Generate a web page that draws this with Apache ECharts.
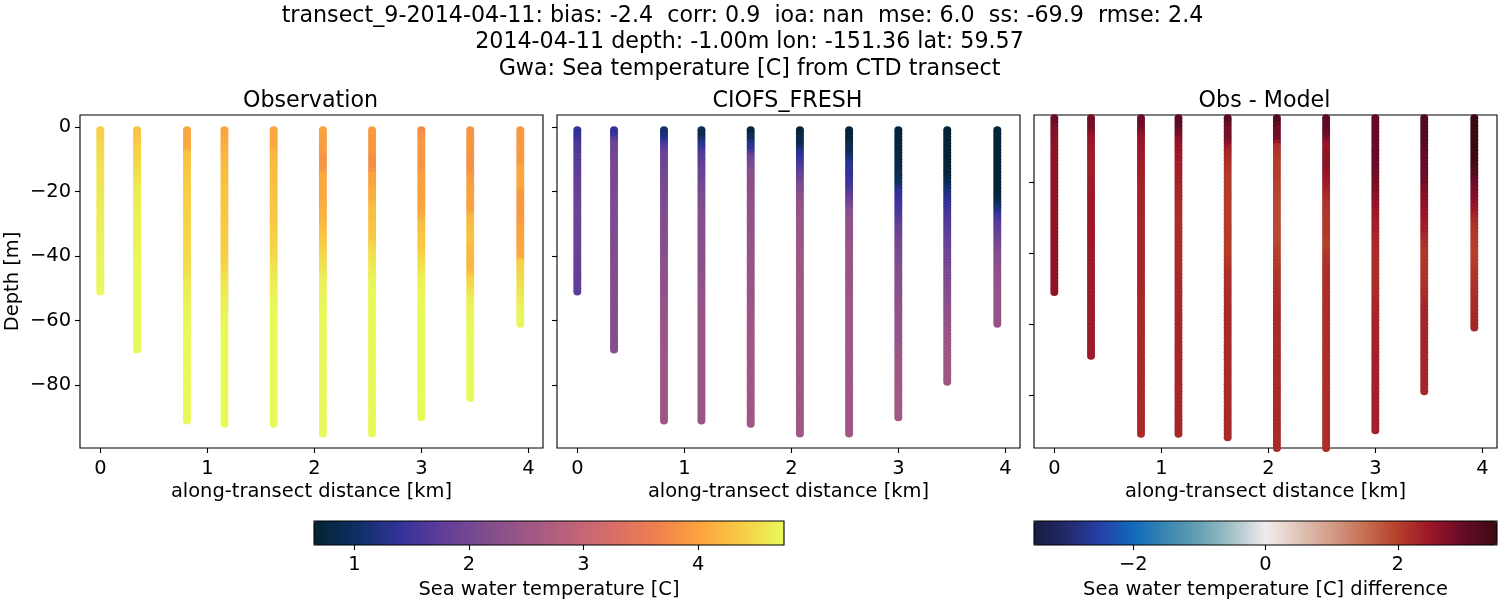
<!DOCTYPE html>
<html><head><meta charset="utf-8">
<style>html,body{margin:0;padding:0;background:#fff}#c{width:1500px;height:600px}</style>
<script src="https://cdn.jsdelivr.net/npm/echarts@6/dist/echarts.min.js"></script>
</head><body><div id="c"></div>
<script>
const distanceKm=[0,0.343,0.81,1.16,1.62,2.08,2.54,3.0,3.457,3.925];
const xTicks=[0,1,2,3,4];
const yTicksLabelled=[0,-20,-40,-60,-80];
const tempTicks=[1,2,3,4];
const diffTicks=[-2,0,2];
const suptitle=["transect_9-2014-04-11: bias: -2.4  corr: 0.9  ioa: nan  mse: 6.0  ss: -69.9  rmse: 2.4","2014-04-11 depth: -1.00m lon: -151.36 lat: 59.57","Gwa: Sea temperature [C] from CTD transect"];
const panelTitles=["Observation","CIOFS_FRESH","Obs - Model"];
// temperatures in hundredths of a degree, one value per metre of depth from 1 m down, one row per station
const obsTemp=[
[440,441,442,444,446,448,450,451,452,453,454,455,456,457,458,458,459,460,460,461,461,462,462,463,463,464,464,465,465,466,466,467,467,468,468,469,469,470,470,470,471,471,471,472,472,472,473,473,473,474,474],
[430,431,433,435,437,439,441,443,445,446,448,450,452,454,456,458,460,461,462,463,464,464,465,465,466,466,467,467,468,468,469,469,470,470,470,471,471,471,472,472,472,473,473,473,473,474,474,474,474,474,474,475,475,475,475,475,475,475,475,475,475,475,475,475,475,475,475,475,475],
[405,405,405,406,406,407,408,425,430,431,432,433,434,435,436,437,438,438,439,439,440,440,441,441,442,442,443,443,444,444,445,445,446,446,447,447,448,448,449,449,450,451,452,453,454,456,458,460,462,464,465,466,467,468,469,470,471,472,472,473,473,473,474,474,474,474,474,474,475,475,475,475,475,475,475,475,475,475,475,475,475,475,475,475,475,475,475,475,475,475,475],
[403,404,405,406,407,410,413,415,417,420,421,422,423,424,425,426,427,428,429,430,431,431,432,432,433,433,434,434,435,435,436,436,437,437,438,438,439,439,440,440,442,444,446,448,450,452,454,456,458,460,462,464,465,466,467,468,469,470,471,472,472,473,473,474,474,474,474,474,475,475,475,475,475,475,475,475,475,475,475,475,475,475,475,475,475,475,475,475,475,475,475,475],
[403,404,405,405,406,406,407,418,419,420,421,422,423,424,425,426,426,427,428,428,429,430,431,432,433,434,435,435,436,437,438,439,440,441,442,443,444,445,446,447,449,451,455,457,459,461,463,465,466,467,468,469,470,471,472,472,473,473,474,474,474,474,475,475,475,475,475,475,475,475,475,475,475,475,475,475,475,475,475,475,475,475,475,475,475,475,475,475,475,475,475,475],
[400,399,398,397,396,395,394,392,389,386,385,385,385,390,405,405,405,405,406,406,407,407,408,408,410,411,413,414,416,420,423,426,429,432,435,437,439,441,443,447,450,452,454,456,460,462,464,466,467,468,469,470,471,472,473,473,474,474,474,474,475,475,475,475,475,475,475,475,475,475,475,475,475,475,475,475,475,475,475,475,475,475,475,475,475,475,475,475,475,475,475,475,475,475,475],
[395,394,393,392,391,390,390,390,385,381,380,380,380,385,400,400,401,401,403,410,410,411,412,420,425,426,427,428,429,430,431,432,435,436,437,440,446,450,452,454,456,458,460,462,464,466,468,470,471,472,473,473,474,474,475,475,475,475,475,475,475,475,475,475,475,475,475,475,475,475,475,475,475,475,475,475,475,475,475,475,475,475,475,475,475,475,475,475,475,475,475,475,475,475,475],
[375,378,382,386,390,390,390,390,390,389,388,385,385,390,400,400,400,400,400,400,400,400,401,401,402,402,403,410,418,425,427,429,431,433,435,436,437,438,442,446,448,450,453,456,459,462,465,467,468,469,470,471,472,472,473,473,474,474,474,474,475,475,475,475,475,475,475,475,475,475,475,475,475,475,475,475,475,475,475,475,475,475,475,475,475,475,475,475,475,475],
[385,386,387,388,390,390,389,388,386,384,382,382,382,382,388,395,396,397,398,398,399,400,400,400,400,400,405,420,422,424,426,428,429,430,430,428,425,422,420,420,420,420,420,420,425,432,440,445,448,452,456,460,464,467,469,470,471,472,472,473,473,474,474,474,475,475,475,475,475,475,475,475,475,475,475,475,475,475,475,475,475,475,475,475],
[390,390,390,391,391,391,392,392,391,390,390,395,405,405,405,405,405,405,405,395,390,390,390,390,390,390,390,390,392,394,396,398,400,401,402,403,404,405,406,408,410,440,442,444,446,448,450,452,454,456,458,460,462,465,467,469,470,471,472,472,472]];
const modelTemp=[
[137,137,137,145,155,160,163,165,168,170,172,173,175,176,177,178,180,182,184,185,186,186,187,188,188,189,189,190,190,190,190,190,189,189,188,188,187,187,186,185,185,184,183,182,181,180,179,178,177,176,175],
[140,140,145,170,190,192,194,196,198,200,201,202,203,204,205,206,207,208,208,209,209,209,210,210,210,211,211,211,212,212,212,212,213,213,213,214,214,214,215,215,215,216,216,216,217,217,217,218,218,218,219,219,219,220,220,220,220,220,220,220,220,220,220,220,220,220,220,220,220],
[110,110,120,130,145,160,175,185,188,190,192,194,196,198,200,202,204,205,206,207,208,209,210,211,212,213,214,215,216,216,217,218,219,220,220,221,222,223,224,225,226,227,227,228,228,229,229,230,231,232,233,234,235,236,237,238,239,240,241,242,243,244,245,245,246,246,247,247,248,248,248,249,249,249,250,250,250,250,250,250,250,250,250,250,250,250,250,250,250,250,250],
[90,90,90,110,125,135,150,160,165,170,175,180,183,186,189,192,195,200,203,206,209,211,213,214,215,216,217,218,219,220,221,221,222,222,223,223,224,224,225,225,226,227,228,229,230,231,232,233,234,235,236,237,238,239,240,240,241,241,242,242,243,243,243,244,244,244,244,245,245,245,245,245,245,245,245,245,245,245,245,245,245,245,245,245,245,245,245,245,245,245,245],
[75,75,95,95,120,130,140,160,180,195,205,210,215,220,223,225,226,228,229,230,230,231,231,232,232,233,233,234,234,235,235,235,236,236,237,237,238,238,239,239,240,240,241,241,242,242,243,243,244,245,245,245,246,246,246,247,247,247,248,248,248,248,249,249,249,249,250,250,250,250,250,250,250,250,250,250,250,250,250,250,250,250,250,250,250,250,250,250,250,250,250,250],
[70,70,85,85,88,95,110,125,135,142,150,160,168,176,185,192,198,205,212,218,224,230,233,236,238,240,241,243,244,245,246,246,247,247,248,248,249,249,249,250,250,250,250,251,251,251,251,251,251,252,252,252,252,252,252,252,252,252,252,252,252,252,252,252,252,252,252,252,252,252,252,252,252,252,252,252,252,252,252,252,252,252,252,252,252,252,252,252,252,252,252,252,252,252,252],
[72,72,72,72,80,90,90,95,105,115,125,135,135,135,138,142,146,150,158,166,175,180,190,200,210,218,224,228,232,234,235,236,237,238,239,240,241,242,243,243,244,244,245,245,245,246,246,247,247,247,248,248,249,249,250,250,250,250,251,251,251,251,252,252,252,252,253,253,253,253,253,253,254,254,254,254,254,254,254,254,255,255,255,255,255,255,255,255,255,255,255,255,255,255,255],
[72,72,72,72,72,73,74,75,76,78,79,80,82,85,90,93,98,105,118,130,135,140,145,150,155,158,160,166,172,178,185,188,191,194,197,200,202,204,206,208,210,212,214,216,220,221,222,223,224,225,226,227,228,229,230,231,232,233,234,235,236,237,238,239,240,241,242,243,244,245,246,247,248,249,250,251,252,253,254,255,255,255,255,255,255,255,255,255,255,255],
[68,68,68,68,68,68,68,68,68,68,68,68,69,70,72,80,88,95,105,112,120,127,134,140,145,150,155,158,162,165,168,170,174,178,182,186,190,192,194,196,198,200,202,204,210,211,212,213,214,215,217,219,221,223,225,227,229,231,233,235,237,239,241,243,245,246,247,248,249,250,250,250,250,250,250,250,250,250,250],
[68,68,68,68,68,68,68,68,68,68,68,68,68,68,68,68,68,68,68,68,70,75,80,95,110,120,135,150,160,170,175,180,185,190,195,200,205,210,214,218,221,224,227,230,232,233,234,235,236,238,240,240,240,240,240,240,240,240,240,240,240]];
const diffTemp=[
[295,295,295,285,275,272,270,268,266,265,264,264,263,263,262,262,262,261,261,260,260,260,260,260,260,260,260,259,259,259,259,259,259,259,260,260,260,260,260,260,260,260,260,260,260,260,260,260,260,260,260],
[285,285,285,285,285,270,260,250,248,246,244,243,242,241,240,240,240,241,241,242,242,243,243,244,245,245,245,245,245,245,245,245,245,245,245,245,245,245,245,245,244,244,244,244,244,244,244,244,244,244,244,244,244,244,244,244,244,244,244,244,244,244,244,244,244,244,244,244,244],
[295,295,295,295,285,270,262,256,252,250,248,246,245,244,242,241,240,238,236,235,235,235,234,234,233,233,233,232,232,232,231,231,231,231,230,230,230,230,230,230,230,230,229,229,229,229,228,228,228,228,227,227,227,227,227,227,227,227,227,227,226,226,226,226,226,226,226,226,226,226,226,226,226,226,226,226,226,226,226,226,225,225,225,225,225,225,225,225,225,225,225],
[310,310,310,310,300,290,280,265,258,255,250,247,244,242,240,238,237,236,235,235,233,232,230,228,226,225,224,222,221,220,220,220,220,220,220,221,221,222,222,223,223,223,224,224,224,225,225,225,225,225,226,226,226,226,226,227,227,227,227,227,228,228,228,228,228,228,228,228,228,228,228,228,228,228,228,228,228,228,228,228,228,228,228,228,228,228,228,228,228,228,228],
[315,315,315,300,285,285,285,285,270,250,235,230,225,220,215,212,210,208,206,205,205,205,204,204,204,204,204,204,204,204,204,204,204,205,205,204,203,200,202,204,206,208,210,212,215,217,219,220,221,222,223,224,225,225,225,225,225,225,225,225,225,225,225,225,225,225,225,225,225,225,225,225,225,225,225,225,225,225,225,225,225,225,225,225,225,225,225,225,225,225,225,225],
[320,320,320,310,290,290,290,290,255,220,215,212,210,208,206,205,204,203,202,200,198,197,196,195,194,193,192,191,190,190,190,190,190,190,190,192,194,196,198,200,202,204,206,208,210,212,214,215,215,215,217,219,220,221,222,223,224,225,225,225,225,225,225,225,225,225,225,225,225,225,225,225,225,225,225,225,225,225,225,225,225,225,225,225,225,225,225,225,225,225,225,225,225,225,225],
[310,310,310,310,305,300,290,280,265,255,255,258,262,265,265,265,258,252,248,245,240,235,230,225,220,218,216,214,212,210,210,210,210,210,210,205,203,200,205,210,213,215,216,217,218,218,219,219,219,220,220,220,220,220,220,220,220,220,220,220,220,220,220,220,220,220,220,220,220,220,220,220,220,220,220,220,220,220,220,220,220,220,220,220,220,220,220,220,220,220,220,220,220,220,220],
[305,305,305,304,303,302,302,301,300,300,299,299,298,297,295,293,291,289,287,285,282,278,274,270,265,260,255,250,246,242,240,238,236,234,230,228,226,225,224,223,222,222,221,221,220,220,221,221,222,222,223,224,225,226,227,228,229,230,230,230,231,231,232,232,232,233,233,233,234,234,234,234,234,235,235,235,235,235,235,235,235,235,235,235,235,235,235,235,235,235],
[325,325,325,325,325,322,320,318,316,315,312,309,306,303,300,298,296,294,292,290,285,280,275,270,265,260,257,255,252,250,246,243,240,237,230,226,222,218,214,210,210,210,211,212,213,214,215,215,216,218,220,222,224,226,228,230,230,230,230,230,230,230,230,230,230,230,230,230,230,230,230,230,230,230,230,230,230,230,230],
[350,350,350,350,350,350,350,350,350,350,350,350,350,345,340,330,325,320,310,300,290,285,280,275,268,262,255,248,240,230,225,220,215,212,210,208,206,204,202,200,200,202,204,206,208,210,212,215,217,219,220,222,224,225,225,226,226,227,228,229,230]];

const thermalStops=['#042333','#0e2f63','#33329a','#5f3e98','#7f4c8e','#9f5785','#bd6379','#d86d68','#f07f4f','#fba23e','#f8cb44','#e8fa5b'];
const balanceStops=['#181c43','#222a6a','#2640a8','#1069ba','#3a87b0','#65a0b3','#a5c2c8','#f1ecec','#e0c5b8','#d39c86','#c66f52','#b5402a','#9b1429','#650c26','#3c0912'];

function points(rows){const out=[];rows.forEach((r,s)=>r.forEach((v,i)=>out.push([distanceKm[s],-(i+1),v/100])));return out;}
const FONT='"DejaVu Sans"',FS=19.44,TF=22.2,TX='#000';
const lbl=f=>({color:TX,fontFamily:FONT,fontSize:FS,margin:10,formatter:v=>String(v).replace('-','\u2212'),...f});
const panels=[{l:80,name:'Depth [m]',show:true,ymin:-99.5,ymax:3.7,ticks:yTicksLabelled},
              {l:557,ymin:-99.5,ymax:3.7,ticks:yTicksLabelled},
              {l:1034,ymin:-95,ymax:-1.07,ticks:yTicksLabelled.slice(1)}];
const grid=[],xAxis=[],yAxis=[],series=[];
panels.forEach((p,i)=>{
  grid.push({left:p.l,top:115,width:463,height:333,show:true,borderColor:'#000',borderWidth:1.1,backgroundColor:'#fff',outerBoundsMode:'none'});
  xAxis.push({type:'value',gridIndex:i,min:-0.19,max:4.137,name:'along-transect distance [km]',nameLocation:'middle',nameGap:34,
    nameTextStyle:{color:TX,fontFamily:FONT,fontSize:FS},splitLine:{show:false},axisLine:{show:false,onZero:false},
    axisTick:{show:true,length:5,inside:false,customValues:xTicks,lineStyle:{color:'#000',width:1.1}},
    axisLabel:lbl({margin:11,customValues:xTicks})});
  yAxis.push({type:'value',gridIndex:i,min:p.ymin,max:p.ymax,name:p.name||'',nameLocation:'middle',nameGap:58,
    nameTextStyle:{color:TX,fontFamily:FONT,fontSize:FS},splitLine:{show:false},axisLine:{show:false,onZero:false},
    axisTick:{show:true,length:5,customValues:p.ticks,lineStyle:{color:'#000',width:1.1}},
    axisLabel:lbl({show:!!p.show,margin:9,padding:[3,0,0,0],customValues:p.ticks})});
  series.push({type:'scatter',xAxisIndex:i,yAxisIndex:i,symbol:'circle',symbolSize:8,clip:true,silent:true,animation:false,
    itemStyle:{opacity:1},data:points([obsTemp,modelTemp,diffTemp][i]),encode:{x:0,y:1},progressive:0});
});
const bars=[{l:314,w:470,min:0.648,max:4.75,ticks:tempTicks,name:'Sea water temperature [C]'},
            {l:1034,w:463,min:-3.5,max:3.5,ticks:diffTicks,name:'Sea water temperature [C] difference'}];
bars.forEach((b,k)=>{
  const i=3+k;
  grid.push({left:b.l,top:521,width:b.w,height:24,show:true,borderColor:'#000',borderWidth:1.1,backgroundColor:'transparent',z:20,outerBoundsMode:'none'});
  xAxis.push({type:'value',gridIndex:i,min:b.min,max:b.max,name:b.name,nameLocation:'middle',nameGap:35,z:20,
    nameTextStyle:{color:TX,fontFamily:FONT,fontSize:FS},splitLine:{show:false},axisLine:{show:false,onZero:false},
    axisTick:{show:true,length:5,customValues:b.ticks,lineStyle:{color:'#000',width:1.1}},
    axisLabel:lbl({customValues:b.ticks})});
  yAxis.push({type:'value',gridIndex:i,show:false,min:0,max:1,splitLine:{show:false}});
});
const titleStyle={color:TX,fontFamily:FONT,fontSize:TF,fontWeight:'normal'};
const suptitleCentre=[742.5,749.5,749.5];
const titles=suptitle.map((t,i)=>({text:t,left:suptitleCentre[i],top:5+i*26.5,padding:0,textAlign:'center',textStyle:titleStyle}));
panelTitles.forEach((t,i)=>titles.push({text:t,left:panels[i].l+230.5,top:90,padding:0,textAlign:'center',textStyle:titleStyle}));
const vm=(idx,b,stops)=>({type:'continuous',seriesIndex:idx,dimension:2,min:b.min,max:b.max,orient:'horizontal',left:b.l,top:521,
  itemWidth:24,itemHeight:b.w,calculable:false,realtime:false,hoverLink:false,text:null,padding:0,inRange:{color:stops},z:5});
const chart=echarts.init(document.getElementById('c'),null,{renderer:'canvas',width:1500,height:600});
chart.setOption({animation:false,backgroundColor:'#fff',title:titles,grid,xAxis,yAxis,series,
  visualMap:[vm([0,1],bars[0],thermalStops),vm([2],bars[1],balanceStops)]});
</script></body></html>
